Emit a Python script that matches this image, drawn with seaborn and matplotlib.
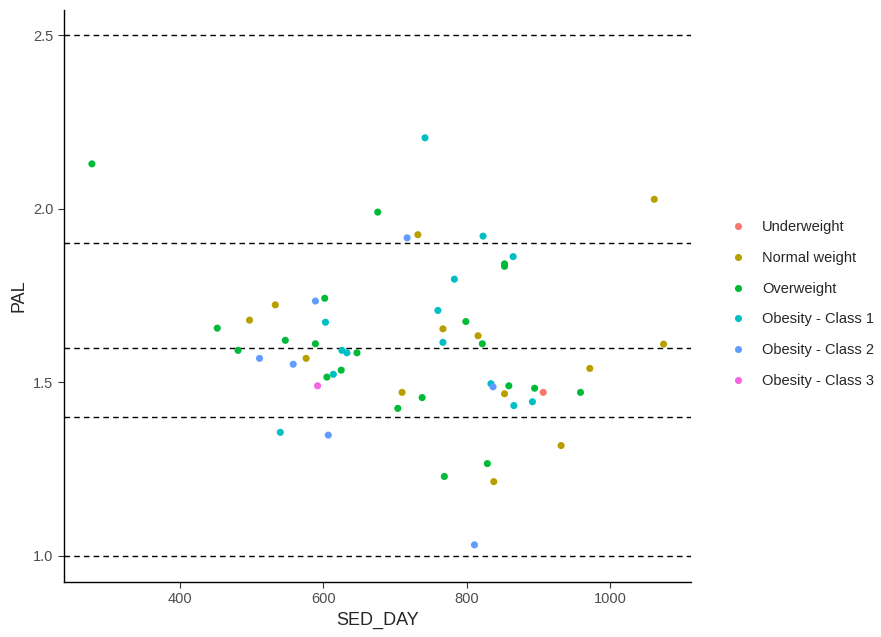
import pandas as pd
import matplotlib
matplotlib.use("Agg")
import matplotlib.pyplot as plt
import seaborn as sns

# values
sed_day = [277, 742, 1062, 676, 717, 732, 823, 865, 853, 853, 783,
           533, 589, 602, 497, 603, 452, 547, 589, 481, 626, 633, 647,
           511, 576, 558, 625, 614, 605, 592, 540, 607, 710, 738, 704,
           769, 829, 838, 811, 760, 767, 767, 799, 816, 822, 834, 837,
           859, 853, 866, 895, 907, 892, 959, 972, 1075, 932]
pal = [2.129, 2.204, 2.027, 1.990, 1.916, 1.925, 1.921, 1.862, 1.841, 1.834, 1.797,
       1.723, 1.734, 1.742, 1.679, 1.673, 1.656, 1.621, 1.611, 1.592, 1.592, 1.585, 1.585,
       1.569, 1.569, 1.552, 1.535, 1.523, 1.515, 1.490, 1.356, 1.348, 1.471, 1.456, 1.425,
       1.229, 1.266, 1.214, 1.032, 1.707, 1.654, 1.615, 1.675, 1.634, 1.611, 1.496, 1.487,
       1.490, 1.467, 1.433, 1.483, 1.471, 1.444, 1.471, 1.540, 1.610, 1.318]
bmi_class = ["Overweight", "Obesity - Class 1", "Normal weight", "Overweight",
             "Obesity - Class 2", "Normal weight", "Obesity - Class 1", "Obesity - Class 1",
             "Overweight", "Overweight", "Obesity - Class 1",
             "Normal weight", "Obesity - Class 2", "Overweight", "Normal weight",
             "Obesity - Class 1", "Overweight", "Overweight", "Overweight", "Overweight",
             "Obesity - Class 1", "Obesity - Class 1", "Overweight",
             "Obesity - Class 2", "Normal weight", "Obesity - Class 2", "Overweight",
             "Obesity - Class 1", "Overweight", "Obesity - Class 3", "Obesity - Class 1",
             "Obesity - Class 2", "Normal weight", "Overweight", "Overweight",
             "Overweight", "Overweight", "Normal weight", "Obesity - Class 2",
             "Obesity - Class 1", "Normal weight", "Obesity - Class 1", "Overweight",
             "Normal weight", "Overweight", "Obesity - Class 1", "Obesity - Class 2",
             "Overweight", "Normal weight", "Obesity - Class 1", "Overweight",
             "Underweight", "Obesity - Class 1", "Overweight", "Normal weight",
             "Normal weight", "Normal weight"]

class_order = ["Underweight", "Normal weight", "Overweight",
               "Obesity - Class 1", "Obesity - Class 2", "Obesity - Class 3"]
class_colors = ["#F8766D", "#B79F00", "#00BA38", "#00BFC4", "#619CFF", "#F564E3"]
ref_lines = [1.0, 1.4, 1.6, 1.9, 2.5]

df = pd.DataFrame({"SED_DAY": sed_day, "PAL": pal, "class": bmi_class})

sns.set_style("white")
plt.rcParams["font.family"] = ["Liberation Sans", "DejaVu Sans"]

fig = plt.figure(figsize=(8.81, 6.37), dpi=100)
ax = fig.add_axes([0.0726, 0.0863, 0.7115, 0.898])

for y in ref_lines:
    ax.axhline(y, color="black", linestyle=(0, (4, 3)), linewidth=1.0, zorder=1)

sns.scatterplot(data=df, x="SED_DAY", y="PAL", hue="class", hue_order=class_order,
                palette=class_colors, s=26, linewidth=0, ax=ax, zorder=3)

ax.set_xlim(238, 1113)
ax.set_ylim(0.925, 2.572)
ax.set_xticks([400, 600, 800, 1000])
ax.set_yticks([1.0, 1.5, 2.0, 2.5])
ax.set_yticklabels(["1.0", "1.5", "2.0", "2.5"])
ax.tick_params(axis="both", direction="out", length=4, width=0.8, color="#333333",
               labelsize=10.5, labelcolor="#4D4D4D", bottom=True, left=True)
ax.set_xlabel("SED_DAY", fontsize=13)
ax.set_ylabel("PAL", fontsize=13)

sns.despine(ax=ax)
for side in ["left", "bottom"]:
    ax.spines[side].set_color("black")
    ax.spines[side].set_linewidth(1.0)

ax.legend(title=None, frameon=False, loc="center left", bbox_to_anchor=(1.052, 0.486),
          fontsize=10.5, markerscale=1.0, handlelength=1.0, handletextpad=1.15,
          labelspacing=1.15, borderpad=0)

fig.savefig("out.png", dpi=100)
